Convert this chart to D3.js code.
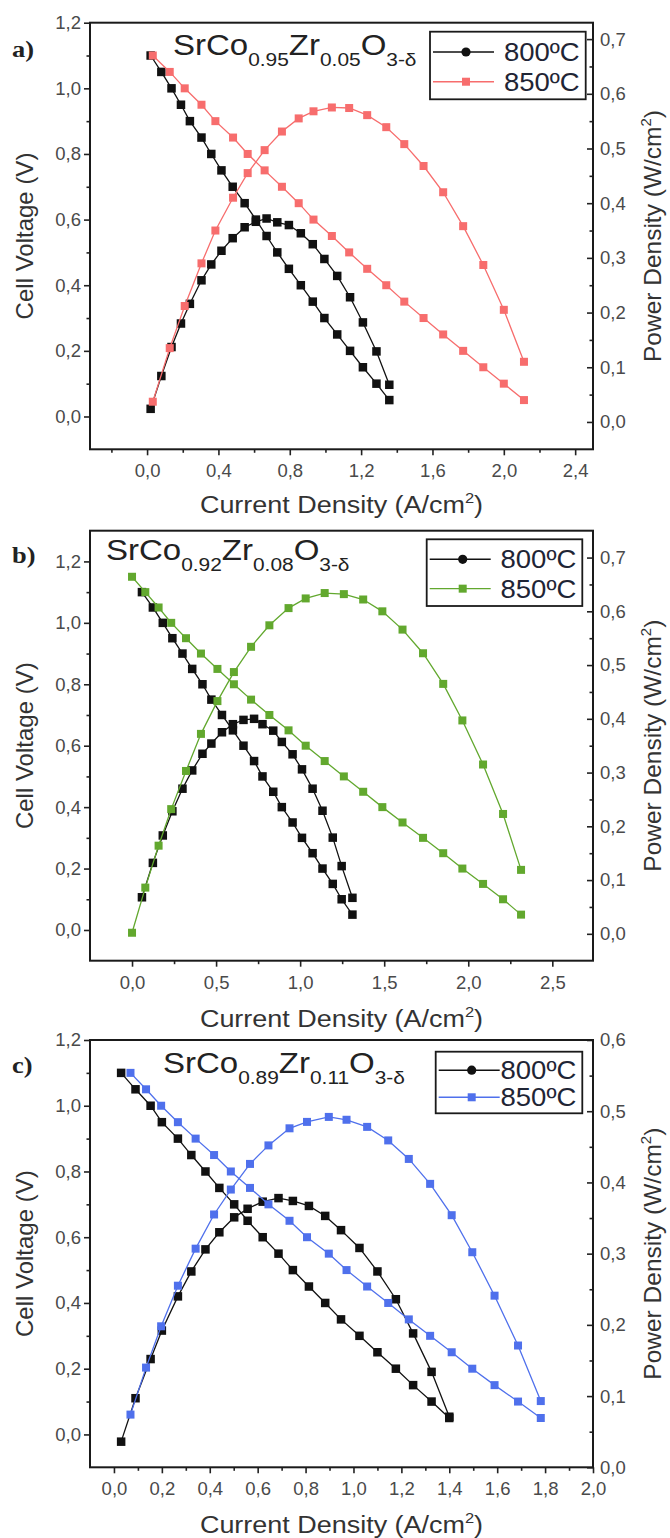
<!DOCTYPE html>
<html>
<head>
<meta charset="utf-8">
<script src="https://cdn.jsdelivr.net/npm/d3@7"></script>
<style>
body { margin: 0; background: #fff; }
svg { display: block; font-family: 'Liberation Sans', Arial, sans-serif; }
</style>
</head>
<body>
<script>
// common voltage steps (V)
const volts22 = [1.10, 1.05, 1.00, 0.95, 0.90, 0.85, 0.80, 0.75, 0.70, 0.65, 0.60, 0.55, 0.50, 0.45, 0.40, 0.35, 0.30, 0.25, 0.20, 0.15, 0.10, 0.05]
const volts23 = [1.15, 1.10, 1.05, 1.00, 0.95, 0.90, 0.85, 0.80, 0.75, 0.70, 0.65, 0.60, 0.55, 0.50, 0.45, 0.40, 0.35, 0.30, 0.25, 0.20, 0.15, 0.10, 0.05]

// a) SrCo0.95Zr0.05O3-d
const aCur800 = [0.02, 0.08, 0.137, 0.19, 0.24, 0.305, 0.36, 0.417, 0.48, 0.547, 0.61, 0.67, 0.73, 0.795, 0.862, 0.929, 0.994, 1.066, 1.138, 1.21, 1.286, 1.358]
const aPow800 = [0.024, 0.084, 0.137, 0.18, 0.216, 0.259, 0.288, 0.313, 0.336, 0.356, 0.366, 0.372, 0.365, 0.36, 0.345, 0.325, 0.298, 0.267, 0.228, 0.182, 0.129, 0.068]
const aCur850 = [0.032, 0.127, 0.211, 0.305, 0.383, 0.482, 0.564, 0.659, 0.756, 0.85, 0.933, 1.036, 1.133, 1.234, 1.341, 1.442, 1.55, 1.66, 1.772, 1.885, 2.0, 2.113]
const aPow850 = [0.037, 0.135, 0.212, 0.29, 0.35, 0.41, 0.455, 0.497, 0.531, 0.555, 0.568, 0.575, 0.574, 0.561, 0.539, 0.508, 0.468, 0.42, 0.358, 0.287, 0.205, 0.11]

// b) SrCo0.92Zr0.08O3-d
const bCur800 = [0.059, 0.124, 0.183, 0.24, 0.30, 0.358, 0.419, 0.472, 0.535, 0.60, 0.663, 0.726, 0.776, 0.84, 0.891, 0.955, 1.011, 1.074, 1.133, 1.194, 1.247, 1.311]
const bPow800 = [0.068, 0.132, 0.183, 0.228, 0.27, 0.304, 0.335, 0.354, 0.375, 0.39, 0.398, 0.40, 0.39, 0.378, 0.357, 0.334, 0.306, 0.27, 0.229, 0.179, 0.126, 0.067]
const bCur850 = [0.0, 0.079, 0.158, 0.233, 0.321, 0.41, 0.508, 0.606, 0.708, 0.817, 0.931, 1.033, 1.146, 1.26, 1.375, 1.489, 1.609, 1.731, 1.851, 1.965, 2.088, 2.207, 2.314]
const bPow850 = [0.002, 0.086, 0.164, 0.232, 0.303, 0.372, 0.433, 0.487, 0.534, 0.574, 0.606, 0.624, 0.634, 0.632, 0.622, 0.6, 0.566, 0.522, 0.465, 0.397, 0.315, 0.223, 0.119]

// c) SrCo0.89Zr0.11O3-d
const cCur800 = [0.03, 0.09, 0.153, 0.2, 0.267, 0.323, 0.382, 0.44, 0.502, 0.558, 0.621, 0.687, 0.747, 0.814, 0.882, 0.948, 1.025, 1.10, 1.177, 1.249, 1.326, 1.40]
const cPow800 = [0.036, 0.097, 0.152, 0.192, 0.24, 0.275, 0.306, 0.33, 0.351, 0.363, 0.373, 0.378, 0.374, 0.367, 0.353, 0.333, 0.308, 0.275, 0.236, 0.188, 0.134, 0.071]
const cCur850 = [0.069, 0.134, 0.197, 0.267, 0.341, 0.418, 0.488, 0.568, 0.645, 0.733, 0.806, 0.897, 0.971, 1.057, 1.145, 1.231, 1.32, 1.41, 1.496, 1.589, 1.687, 1.782]
const cPow850 = [0.074, 0.14, 0.198, 0.255, 0.307, 0.355, 0.39, 0.426, 0.452, 0.476, 0.485, 0.492, 0.488, 0.478, 0.459, 0.433, 0.398, 0.354, 0.302, 0.241, 0.171, 0.093]

// tick labels
const aXTicks = [0.0, 0.4, 0.8, 1.2, 1.6, 2.0, 2.4]
const bXTicks = [0.0, 0.5, 1.0, 1.5, 2.0, 2.5]
const cXTicks = [0.0, 0.2, 0.4, 0.6, 0.8, 1.0, 1.2, 1.4, 1.6, 1.8, 2.0]
const vTicks = [0.0, 0.2, 0.4, 0.6, 0.8, 1.0, 1.2]
const abPowTicks = [0.0, 0.1, 0.2, 0.3, 0.4, 0.5, 0.6, 0.7]
const cPowTicks = [0.0, 0.1, 0.2, 0.3, 0.4, 0.5, 0.6]

const legendNames = ['800ºC', '850ºC']
const formulas = [['0.95', '0.05'], ['0.92', '0.08'], ['0.89', '0.11']]

const width = 670, height = 1538
const frameLeft = 90, frameRight = 593
const stretch = 1.1

const panels = [
  {label: 'a)', top: 22.7, bottom: 449.3, xDomain: [-0.32, 2.5], vDomain: [-0.1, 1.2], pDomain: [-0.05, 0.73],
   xTicks: aXTicks, xMinor: 0.2, pTicks: abPowTicks, color: '#f76d6d', formula: formulas[0],
   titleX: 173, titleY: 55, labelY: 57, xTitleY: 513, legend: {x: 430, y: 31.7, w: 155.7, h: 67.6},
   s800: [aCur800, volts22, aPow800], s850: [aCur850, volts22, aPow850]},
  {label: 'b)', top: 530.7, bottom: 960.7, xDomain: [-0.25, 2.742], vDomain: [-0.1, 1.3], pDomain: [-0.05, 0.75],
   xTicks: bXTicks, xMinor: 0.25, pTicks: abPowTicks, color: '#62a82e', formula: formulas[1],
   titleX: 106, titleY: 560, labelY: 563, xTitleY: 1027, legend: {x: 426.7, y: 539.3, w: 155.6, h: 66.7},
   s800: [bCur800, volts22, bPow800], s850: [bCur850, volts23, bPow850]},
  {label: 'c)', top: 1040, bottom: 1467.3, xDomain: [-0.1, 2.0], vDomain: [-0.1, 1.2], pDomain: [0, 0.6],
   xTicks: cXTicks, xMinor: 0.1, pTicks: cPowTicks, color: '#4f70ec', formula: formulas[2],
   titleX: 163, titleY: 1073, labelY: 1073, xTitleY: 1533, legend: {x: 435.7, y: 1051.7, w: 146.6, h: 61.6},
   s800: [cCur800, volts22, cPow800], s850: [cCur850, volts22, cPow850]}
]

const svg = d3.select('body').append('svg').attr('width', width).attr('height', height)

const fmt = d => d.toFixed(1).replace('.', ',')

function minorTicks(domain, step, majors) {
  const out = []
  const n0 = Math.ceil(domain[0] / step - 1e-9), n1 = Math.floor(domain[1] / step + 1e-9)
  for (let k = n0; k <= n1; k++) {
    const v = +(k * step).toFixed(4)
    if (v <= domain[0] + 1e-6 || v >= domain[1] - 1e-6) continue
    if (majors.some(m => Math.abs(m - v) < 1e-6)) continue
    out.push(v)
  }
  return out
}

function styleAxis(sel) {
  sel.select('.domain').remove()
  sel.selectAll('line').attr('stroke', '#222').attr('stroke-width', 1.6)
  sel.selectAll('text').attr('font-size', 18.5).attr('fill', '#4a4a4a')
    .attr('font-family', "'Liberation Sans', Arial, sans-serif")
}

function drawPanel(p) {
  const x = d3.scaleLinear().domain(p.xDomain).range([frameLeft, frameRight])
  const y = d3.scaleLinear().domain(p.vDomain).range([p.bottom, p.top])
  const yp = d3.scaleLinear().domain(p.pDomain).range([p.bottom, p.top])
  const g = svg.append('g')
  const vT = vTicks.filter(v => v >= p.vDomain[0] && v <= p.vDomain[1])

  // bottom axis
  g.append('g').attr('transform', 'translate(0,' + p.bottom + ')')
    .call(d3.axisBottom(x).tickValues(p.xTicks).tickSize(6).tickPadding(9).tickFormat(fmt)).call(styleAxis)
  g.append('g').attr('transform', 'translate(0,' + p.bottom + ')')
    .call(d3.axisBottom(x).tickValues(minorTicks(p.xDomain, p.xMinor, p.xTicks)).tickSize(3.5).tickFormat('')).call(styleAxis)
  // left axis
  g.append('g').attr('transform', 'translate(' + frameLeft + ',0)')
    .call(d3.axisLeft(y).tickValues(vT).tickSize(6).tickPadding(3).tickFormat(fmt)).call(styleAxis)
  g.append('g').attr('transform', 'translate(' + frameLeft + ',0)')
    .call(d3.axisLeft(y).tickValues(minorTicks(p.vDomain, 0.1, vT)).tickSize(3.5).tickFormat('')).call(styleAxis)
  // right axis (ticks inward)
  g.append('g').attr('transform', 'translate(' + frameRight + ',0)')
    .call(d3.axisRight(yp).tickValues(p.pTicks).tickSize(-6).tickPadding(7).tickFormat(fmt)).call(styleAxis)
  g.append('g').attr('transform', 'translate(' + frameRight + ',0)')
    .call(d3.axisRight(yp).tickValues(minorTicks(p.pDomain, 0.05, p.pTicks)).tickSize(-3.5).tickFormat('')).call(styleAxis)

  // frame
  g.append('rect').attr('x', frameLeft).attr('y', p.top)
    .attr('width', frameRight - frameLeft).attr('height', p.bottom - p.top)
    .attr('fill', 'none').attr('stroke', '#1a1a1a').attr('stroke-width', 2)

  // series
  const series = [{s: p.s800, color: '#111', size: 8.5}, {s: p.s850, color: p.color, size: 8}]
  series.forEach(ser => {
    const [I, V, P] = ser.s
    const vPts = I.map((c, i) => [c, V[i]])
    const pPts = I.map((c, i) => [c, P[i]])
    const lineV = d3.line().x(d => x(d[0])).y(d => y(d[1]))
    const lineP = d3.line().x(d => x(d[0])).y(d => yp(d[1]))
    g.append('path').attr('d', lineV(vPts)).attr('fill', 'none').attr('stroke', ser.color).attr('stroke-width', 1.3)
    g.append('path').attr('d', lineP(pPts)).attr('fill', 'none').attr('stroke', ser.color).attr('stroke-width', 1.3)
    g.selectAll(null).data(vPts).enter().append('rect')
      .attr('x', d => x(d[0]) - ser.size / 2).attr('y', d => y(d[1]) - ser.size / 2)
      .attr('width', ser.size).attr('height', ser.size).attr('fill', ser.color)
    g.selectAll(null).data(pPts).enter().append('rect')
      .attr('x', d => x(d[0]) - ser.size / 2).attr('y', d => yp(d[1]) - ser.size / 2)
      .attr('width', ser.size).attr('height', ser.size).attr('fill', ser.color)
  })

  // legend
  const L = p.legend
  const lg = g.append('g').attr('transform', 'translate(' + L.x + ',' + L.y + ')')
  lg.append('rect').attr('width', L.w).attr('height', L.h).attr('fill', '#fff')
    .attr('stroke', '#1a1a1a').attr('stroke-width', 1.8)
  const rowY = [L.h * 0.3, L.h * 0.74]
  series.forEach((ser, i) => {
    lg.append('line').attr('x1', 3).attr('x2', 64).attr('y1', rowY[i]).attr('y2', rowY[i])
      .attr('stroke', ser.color).attr('stroke-width', 1.4)
    if (i === 0) {
      lg.append('circle').attr('cx', 36).attr('cy', rowY[i]).attr('r', 4.6).attr('fill', ser.color)
    } else {
      lg.append('rect').attr('x', 32).attr('y', rowY[i] - 4).attr('width', 8).attr('height', 8).attr('fill', ser.color)
    }
    lg.append('text').attr('transform', 'translate(' + (L.w - 6) + ',' + (rowY[i] + 9) + ') scale(' + stretch + ',1)')
      .attr('text-anchor', 'end').attr('font-size', 25).attr('fill', '#1f2535').text(legendNames[i])
  })

  // formula title
  const t = g.append('text').attr('transform', 'translate(' + p.titleX + ',' + p.titleY + ') scale(' + stretch + ',1)')
    .attr('font-size', 30).attr('fill', '#222')
  t.append('tspan').text('SrCo')
  t.append('tspan').attr('font-size', 19).attr('dy', 11).text(p.formula[0])
  t.append('tspan').attr('dy', -11).text('Zr')
  t.append('tspan').attr('font-size', 19).attr('dy', 11).text(p.formula[1])
  t.append('tspan').attr('dy', -11).text('O')
  t.append('tspan').attr('font-size', 19).attr('dy', 11).text('3-δ')

  // panel label
  g.append('text').attr('transform', 'translate(12,' + p.labelY + ') scale(' + stretch + ',1)')
    .attr('font-family', "'Liberation Serif', 'Times New Roman', serif").attr('font-weight', 'bold')
    .attr('font-size', 24).attr('fill', '#222').text(p.label)

  // axis titles
  const mid = (p.top + p.bottom) / 2
  const xt = g.append('text').attr('transform', 'translate(' + ((frameLeft + frameRight) / 2) + ',' + p.xTitleY + ') scale(' + stretch + ',1)')
    .attr('text-anchor', 'middle').attr('font-size', 24.5).attr('fill', '#333')
  xt.append('tspan').text('Current Density (A/cm')
  xt.append('tspan').attr('font-size', 15).attr('dy', -10).text('2')
  xt.append('tspan').attr('dy', 10).text(')')

  g.append('text').attr('transform', 'translate(33,' + mid + ') rotate(-90)')
    .attr('text-anchor', 'middle').attr('font-size', 24).attr('fill', '#333').text('Cell Voltage (V)')

  const rt = g.append('text').attr('transform', 'translate(661,' + mid + ') rotate(-90)')
    .attr('text-anchor', 'middle').attr('font-size', 24.5).attr('fill', '#333')
  rt.append('tspan').text('Power Density (W/cm')
  rt.append('tspan').attr('font-size', 15).attr('dy', -10).text('2')
  rt.append('tspan').attr('dy', 10).text(')')
}

panels.forEach(drawPanel)
</script>
</body>
</html>
